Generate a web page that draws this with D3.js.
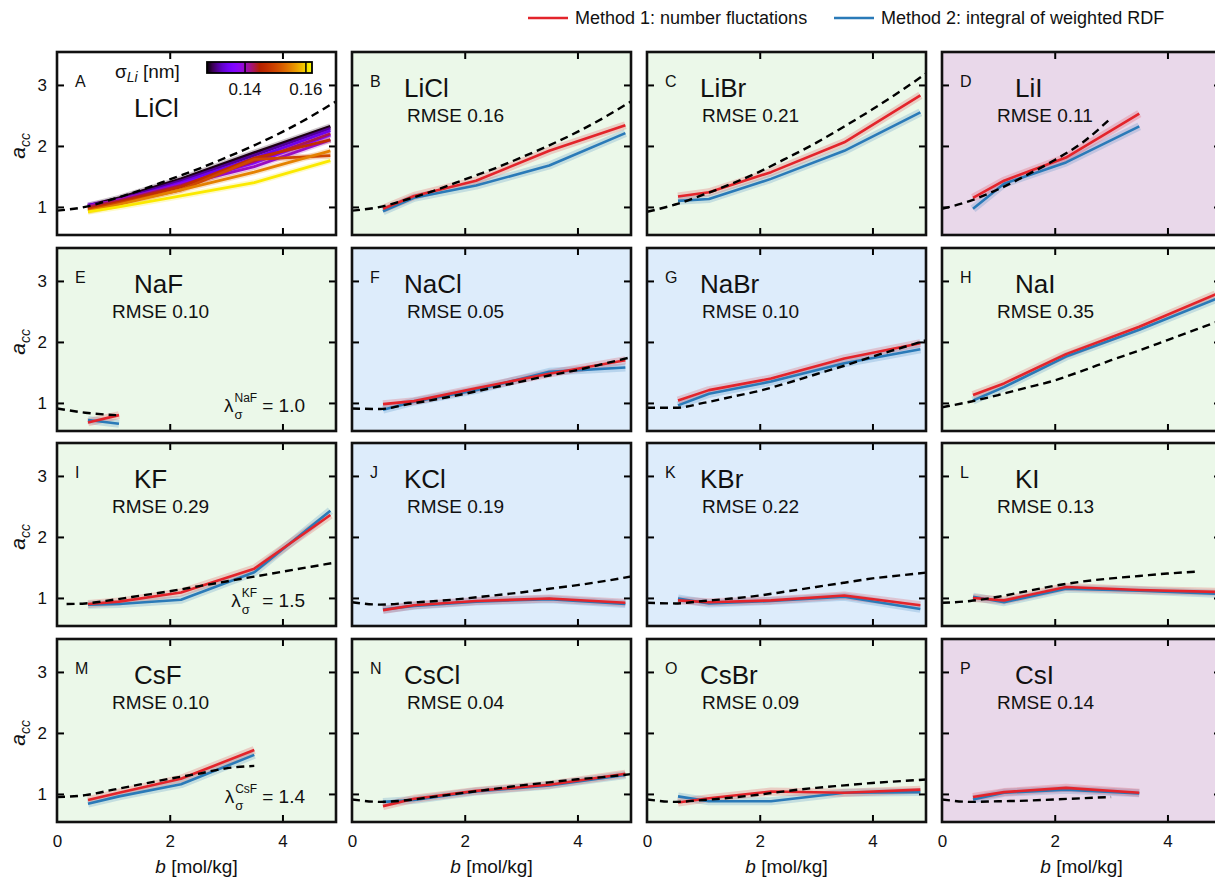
<!DOCTYPE html>
<html>
<head>
<meta charset="utf-8">
<script src="https://cdn.jsdelivr.net/npm/d3@7"></script>
<style>
  body { margin: 0; background: #fff; }
  text { font-family: "Liberation Sans", Arial, sans-serif; fill: #111; }
</style>
</head>
<body>
<div id="chart"></div>
<script>
// ---- data ----
const salts   = ["LiCl","LiCl","LiBr","LiI","NaF","NaCl","NaBr","NaI","KF","KCl","KBr","KI","CsF","CsCl","CsBr","CsI"];
const letters = ["A","B","C","D","E","F","G","H","I","J","K","L","M","N","O","P"];
const rmse    = [null,"0.16","0.21","0.11","0.10","0.05","0.10","0.35","0.29","0.19","0.22","0.13","0.10","0.04","0.09","0.14"];
const bgKind  = ["none","green","green","purple","green","blue","blue","green","green","blue","blue","green","green","green","green","purple"];
const lambdas = {4: ["NaF", "1.0"], 8: ["KF", "1.5"], 12: ["CsF", "1.4"]};

const molality = [0.55, 1.1, 2.2, 3.5, 4.85];

// method 1 (number fluctuations), method 2 (integral of weighted RDF)
const method1 = [
  null,
  [0.97, 1.18, 1.43, 1.92, 2.34],
  [1.17, 1.24, 1.57, 2.06, 2.83],
  [1.15, 1.43, 1.81, 2.53],
  [0.68, 0.80],
  [0.98, 1.03, 1.24, 1.48, 1.70],
  [1.04, 1.21, 1.40, 1.73, 1.98],
  [1.13, 1.32, 1.80, 2.25, 2.78],
  [0.90, 0.94, 1.09, 1.48, 2.36],
  [0.80, 0.88, 0.95, 0.99, 0.92],
  [0.96, 0.93, 0.96, 1.04, 0.88],
  [1.00, 0.96, 1.18, 1.13, 1.10],
  [0.90, 1.02, 1.25, 1.72],
  [0.80, 0.92, 1.05, 1.15, 1.33],
  [0.86, 0.93, 1.04, 1.02, 1.07],
  [0.95, 1.03, 1.10, 1.02]
];
const method2 = [
  null,
  [0.93, 1.15, 1.35, 1.68, 2.21],
  [1.10, 1.13, 1.46, 1.92, 2.55],
  [0.97, 1.38, 1.73, 2.32],
  [0.72, 0.66],
  [0.89, 1.02, 1.21, 1.51, 1.58],
  [0.96, 1.15, 1.35, 1.65, 1.88],
  [1.04, 1.26, 1.76, 2.20, 2.70],
  [0.89, 0.90, 0.97, 1.42, 2.43],
  [0.81, 0.87, 0.94, 0.98, 0.90],
  [0.99, 0.91, 0.95, 1.02, 0.82],
  [1.02, 0.93, 1.15, 1.12, 1.07],
  [0.84, 0.96, 1.16, 1.64],
  [0.87, 0.90, 1.04, 1.14, 1.31],
  [0.96, 0.88, 0.88, 1.02, 1.03],
  [0.91, 1.02, 1.07, 1.01]
];

// experiment (dashed)
const expGrid = [0, 0.5, 1, 1.5, 2, 2.5, 3, 3.5, 4, 4.5, 5];
const expLiCl = [0.94, 1.00, 1.13, 1.28, 1.45, 1.62, 1.81, 2.01, 2.23, 2.48, 2.76];
const expB = [expGrid, expGrid, expGrid, expGrid, [0, 0.5, 1.05], expGrid, expGrid, expGrid,
              [0.17, 0.5, 1, 1.5, 2, 2.5, 3, 3.5, 4, 4.5, 5], expGrid, expGrid, expGrid,
              expGrid, expGrid, expGrid, expGrid];
const expValues = [
  expLiCl,
  expLiCl,
  [0.92, 1.04, 1.20, 1.38, 1.58, 1.81, 2.05, 2.32, 2.60, 2.90, 3.22],
  [0.97, 1.10, 1.29, 1.52, 1.77, 2.06, 2.46],
  [0.91, 0.84, 0.80],
  [0.91, 0.90, 0.98, 1.06, 1.15, 1.25, 1.35, 1.45, 1.54, 1.65, 1.76],
  [0.92, 0.92, 1.00, 1.10, 1.20, 1.33, 1.47, 1.61, 1.76, 1.90, 2.04],
  [0.93, 1.02, 1.13, 1.25, 1.37, 1.53, 1.70, 1.86, 2.03, 2.20, 2.37],
  [0.90, 0.91, 0.97, 1.04, 1.11, 1.19, 1.27, 1.35, 1.43, 1.51, 1.59],
  [0.93, 0.89, 0.92, 0.95, 0.99, 1.04, 1.09, 1.15, 1.21, 1.28, 1.36],
  [0.92, 0.91, 0.95, 0.99, 1.04, 1.11, 1.18, 1.25, 1.32, 1.37, 1.42],
  [0.92, 0.95, 1.02, 1.11, 1.20, 1.27, 1.32, 1.36, 1.40, 1.43],
  [0.95, 0.98, 1.07, 1.16, 1.25, 1.33, 1.42, 1.46],
  [0.91, 0.87, 0.90, 0.96, 1.02, 1.08, 1.14, 1.19, 1.24, 1.28, 1.33],
  [0.91, 0.87, 0.90, 0.94, 0.99, 1.05, 1.10, 1.14, 1.18, 1.21, 1.24],
  [0.91, 0.87, 0.88, 0.89, 0.91, 0.93, 0.95]
];

// panel A: LiCl sweep over sigma_Li
const sigmaLi = [0.128, 0.131, 0.134, 0.137, 0.140, 0.143, 0.147, 0.150, 0.155, 0.161];
const liclSweep = [
  [1.02, 1.15, 1.46, 1.89, 2.32],
  [1.00, 1.12, 1.43, 1.85, 2.29],
  [1.03, 1.10, 1.40, 1.80, 2.25],
  [0.99, 1.08, 1.38, 1.72, 2.18],
  [1.01, 1.12, 1.36, 1.66, 2.10],
  [1.00, 1.10, 1.35, 1.75, 2.20],
  [0.97, 1.08, 1.33, 1.80, 2.10],
  [0.95, 1.06, 1.28, 1.78, 1.84],
  [0.93, 1.04, 1.28, 1.57, 1.92],
  [0.92, 1.00, 1.18, 1.40, 1.76]
];

// ---- layout ----
const W = 1215, H = 879;
const colLeft = [57, 352, 647, 942], rowTop = [52, 248, 443, 639];
const pw = 279, ph = 183;
const bgColor = {none: "#ffffff", green: "#ebf8e9", blue: "#ddecfb", purple: "#e9d8ea"};
const red = "#e3242b", blue = "#2a7ab8";

const svg = d3.select("#chart").append("svg")
  .attr("width", W).attr("height", H);

const x = d3.scaleLinear().domain([0, 4.95]).range([0, pw]);
const y = d3.scaleLinear().domain([0.54, 3.54]).range([ph, 0]);

// gnuplot-like palette (black-purple-red-yellow)
function palette(t) {
  const r = Math.sqrt(t), g = t * t * t, b = Math.max(0, Math.sin(2 * Math.PI * t));
  return d3.rgb(r * 255, g * 255, b * 255).formatHex();
}
const sigmaScale = d3.scaleLinear().domain([0.1275, 0.162]).range([0, 1]).clamp(true);

const line = d3.line().x(d => x(d[0])).y(d => y(d[1])).curve(d3.curveLinear);
const smooth = d3.line().x(d => x(d[0])).y(d => y(d[1])).curve(d3.curveMonotoneX);

const defs = svg.append("defs");

salts.forEach((salt, i) => {
  const col = i % 4, row = Math.floor(i / 4);
  const g = svg.append("g").attr("transform", `translate(${colLeft[col]},${rowTop[row]})`);

  defs.append("clipPath").attr("id", "clip" + i)
    .append("rect").attr("width", pw).attr("height", ph);

  g.append("rect").attr("width", pw).attr("height", ph).attr("fill", bgColor[bgKind[i]]);

  const plot = g.append("g").attr("clip-path", `url(#clip${i})`);

  if (i === 0) {
    sigmaLi.forEach((s, k) => {
      const pts = liclSweep[k].map((v, j) => [molality[j], v]);
      plot.append("path").attr("d", line(pts)).attr("fill", "none")
        .attr("stroke", palette(sigmaScale(s))).attr("stroke-width", 6).attr("opacity", 0.22);
    });
    sigmaLi.forEach((s, k) => {
      const pts = liclSweep[k].map((v, j) => [molality[j], v]);
      plot.append("path").attr("d", line(pts)).attr("fill", "none")
        .attr("stroke", palette(sigmaScale(s))).attr("stroke-width", 2.8);
    });
  } else {
    const p2 = method2[i].map((v, j) => [molality[j], v]);
    const p1 = method1[i].map((v, j) => [molality[j], v]);
    [[p2, blue], [p1, red]].forEach(([pts, c]) => {
      plot.append("path").attr("d", line(pts)).attr("fill", "none")
        .attr("stroke", c).attr("stroke-width", 8).attr("opacity", 0.2)
        .attr("stroke-linejoin", "round");
    });
    [[p2, blue], [p1, red]].forEach(([pts, c]) => {
      plot.append("path").attr("d", line(pts)).attr("fill", "none")
        .attr("stroke", c).attr("stroke-width", 2.6).attr("stroke-linejoin", "round");
    });
  }

  const ex = expValues[i].map((v, j) => [expB[i][j], v]);
  plot.append("path").attr("d", smooth(ex)).attr("fill", "none")
    .attr("stroke", "#000").attr("stroke-width", 2.4).attr("stroke-dasharray", "8,5");

  // inward ticks on all four sides
  const tickX = [2, 4], tickY = [1, 2, 3];
  [[d3.axisBottom(x), ph], [d3.axisTop(x), 0]].forEach(([ax, ty]) => {
    g.append("g").attr("transform", `translate(0,${ty})`)
      .call(ax.tickValues(tickX).tickSizeInner(-7).tickSizeOuter(0).tickFormat(""))
      .call(a => a.select(".domain").remove())
      .call(a => a.selectAll("line").attr("stroke", "#000").attr("stroke-width", 2));
  });
  [[d3.axisLeft(y), 0], [d3.axisRight(y), pw]].forEach(([ax, tx]) => {
    g.append("g").attr("transform", `translate(${tx},0)`)
      .call(ax.tickValues(tickY).tickSizeInner(-7).tickSizeOuter(0).tickFormat(""))
      .call(a => a.select(".domain").remove())
      .call(a => a.selectAll("line").attr("stroke", "#000").attr("stroke-width", 2));
  });

  // tick labels
  if (col === 0) {
    g.append("g")
      .call(d3.axisLeft(y).tickValues(tickY).tickSize(0).tickPadding(10).tickFormat(d3.format("d")))
      .call(a => a.select(".domain").remove())
      .call(a => a.selectAll("text").attr("font-size", 17).attr("fill", "#111")
        .style("font-family", '"Liberation Sans", Arial, sans-serif'));
    const yl = svg.append("text")
      .attr("transform", `translate(25,${rowTop[row] + y(2)}) rotate(-90)`)
      .attr("text-anchor", "middle");
    yl.append("tspan").attr("font-style", "italic").attr("font-size", 21).text("a");
    yl.append("tspan").attr("font-style", "italic").attr("font-size", 14).attr("dy", 5).text("cc");
  }
  if (row === 3) {
    g.append("g").attr("transform", `translate(0,${ph})`)
      .call(d3.axisBottom(x).tickValues([0, 2, 4]).tickSize(0).tickPadding(13).tickFormat(d3.format("d")))
      .call(a => a.select(".domain").remove())
      .call(a => a.selectAll("text").attr("font-size", 17).attr("fill", "#111")
        .style("font-family", '"Liberation Sans", Arial, sans-serif'));
    const xl = g.append("text").attr("x", pw / 2).attr("y", ph + 51)
      .attr("text-anchor", "middle").attr("font-size", 19);
    xl.append("tspan").attr("font-style", "italic").text("b");
    xl.append("tspan").text(" [mol/kg]");
  }

  // frame
  g.append("rect").attr("width", pw).attr("height", ph)
    .attr("fill", "none").attr("stroke", "#111").attr("stroke-width", 2.6);

  // panel texts
  g.append("text").attr("x", 18).attr("y", 35).attr("font-size", 16).text(letters[i]);
  if (i === 0) {
    g.append("text").attr("x", 77).attr("y", 65).attr("font-size", 26).text(salt);
  } else {
    const nameDx = [77, 52, 53, 73][col];
    g.append("text").attr("x", nameDx).attr("y", 45).attr("font-size", 26).text(salt);
    g.append("text").attr("x", 55).attr("y", 70).attr("font-size", 19).text("RMSE " + rmse[i]);
  }

  if (lambdas[i]) {
    const [sup, val] = lambdas[i];
    const lg = g.append("g");
    const l1 = lg.append("text").attr("font-size", 19).text("λ");
    const lw = l1.node().getComputedTextLength();
    const t1 = lg.append("text").attr("x", lw + 1).attr("y", -10).attr("font-size", 12).text(sup);
    const t2 = lg.append("text").attr("x", lw + 1).attr("y", 7).attr("font-size", 13).text("σ");
    const sw = Math.max(t1.node().getComputedTextLength(), t2.node().getComputedTextLength());
    const t3 = lg.append("text").attr("x", lw + sw + 6).attr("font-size", 19).text("= " + val);
    const right = lw + sw + 6 + t3.node().getComputedTextLength();
    lg.attr("transform", `translate(${248 - right},${ph - 19})`);
  }

  // colour bar in panel A
  if (i === 0) {
    const cb = d3.scaleLinear().domain([0.1275, 0.162]).range([150, 255]);
    const grad = defs.append("linearGradient").attr("id", "cbgrad");
    d3.range(0, 1.0001, 0.05).forEach(t => {
      grad.append("stop").attr("offset", t).attr("stop-color", palette(t));
    });
    g.append("rect").attr("x", cb.range()[0]).attr("y", 10)
      .attr("width", cb.range()[1] - cb.range()[0]).attr("height", 11)
      .attr("fill", "url(#cbgrad)").attr("stroke", "#000").attr("stroke-width", 1.8);
    [0.14, 0.16].forEach(v => {
      g.append("line").attr("x1", cb(v)).attr("x2", cb(v)).attr("y1", 10).attr("y2", 21)
        .attr("stroke", "#000").attr("stroke-width", 1.5);
      g.append("text").attr("x", cb(v)).attr("y", 43).attr("text-anchor", "middle")
        .attr("font-size", 17).text(v.toFixed(2));
    });
    const sl = g.append("text").attr("x", 58).attr("y", 26).attr("font-size", 19);
    sl.append("tspan").text("σ");
    sl.append("tspan").attr("font-style", "italic").attr("font-size", 14).attr("dy", 4).text("Li");
    sl.append("tspan").attr("dy", -4).text(" [nm]");
  }
});

// legend
const legendItems = [
  {label: "Method 1: number fluctations", color: red, x: 528},
  {label: "Method 2: integral of weighted RDF", color: blue, x: 834}
];
const leg = svg.append("g");
legendItems.forEach(d => {
  leg.append("line").attr("x1", d.x).attr("x2", d.x + 40).attr("y1", 18).attr("y2", 18)
    .attr("stroke", d.color).attr("stroke-width", 2.6);
  leg.append("text").attr("x", d.x + 47).attr("y", 24).attr("font-size", 18).text(d.label);
});
</script>
</body>
</html>
